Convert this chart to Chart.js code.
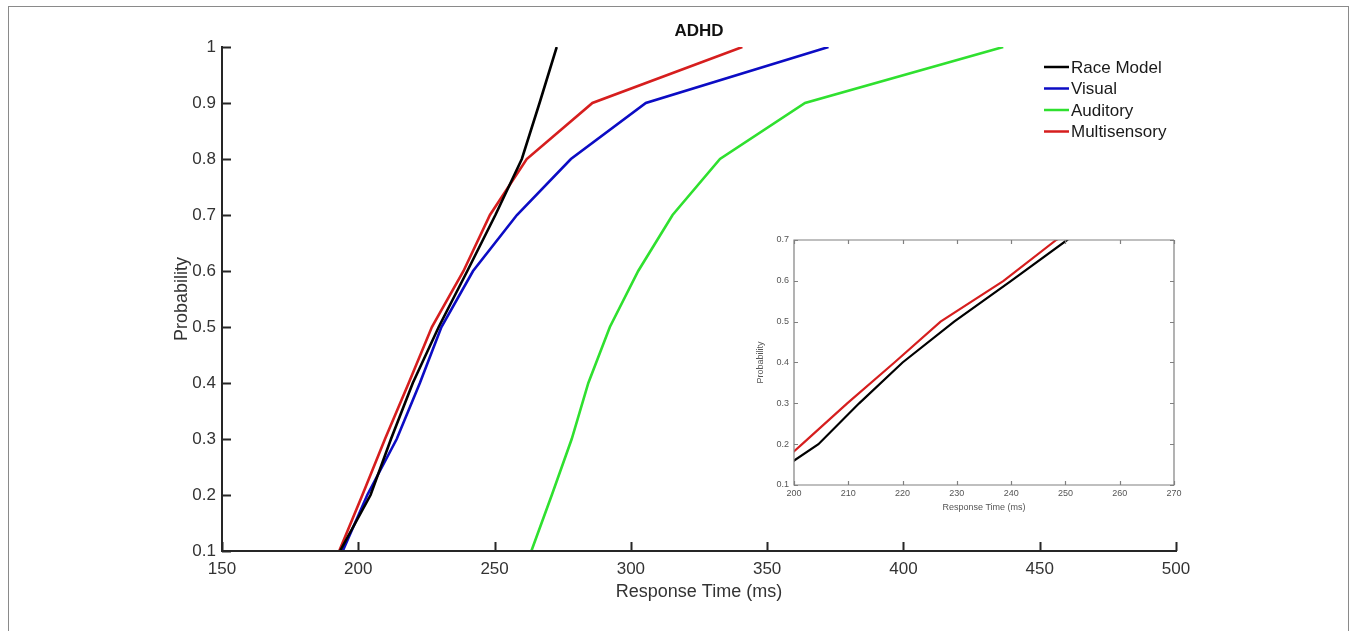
<!DOCTYPE html>
<html>
<head>
<meta charset="utf-8">
<script src="https://cdn.jsdelivr.net/npm/chart.js@4"></script>
<style>
  html, body { margin:0; padding:0; background:#fff; width:1356px; height:631px; overflow:hidden; }
  #frame { position:absolute; left:8px; top:6px; width:1341px; height:640px; border:1px solid #8a8a8a; box-sizing:border-box; }
  #main { position:absolute; left:0; top:0; }
  #inset { position:absolute; left:740px; top:225px; }
</style>
</head>
<body>
<div id="frame"></div>
<canvas id="main" width="1356" height="631"></canvas>
<canvas id="inset" width="445" height="300"></canvas>
<script>
// ---- data (response time in ms at each cumulative probability) ----
const probabilities = [0.1, 0.2, 0.3, 0.4, 0.5, 0.6, 0.7, 0.8, 0.9, 1.0];
const raceModel    = [193.3, 204.5, 212.0, 220.0, 229.5, 240.0, 250.3, 260.0, 266.5, 272.8];
const visual       = [194.3, 203.3, 214.1, 222.6, 230.5, 242.1, 258.2, 278.0, 305.5, 372.5];
const auditory     = [263.5, 271.0, 278.3, 284.4, 292.3, 302.7, 315.3, 332.7, 363.9, 436.6];
const multisensory = [193.0, 201.5, 209.8, 218.5, 227.0, 238.6, 248.3, 261.8, 285.9, 340.9];

const seriesNames  = ['Race Model', 'Visual', 'Auditory', 'Multisensory'];
const xTicksMain   = [150, 200, 250, 300, 350, 400, 450, 500];
const yTicksMain   = [0.1, 0.2, 0.3, 0.4, 0.5, 0.6, 0.7, 0.8, 0.9, 1];
const xTicksInset  = [200, 210, 220, 230, 240, 250, 260, 270];
const yTicksInset  = [0.1, 0.2, 0.3, 0.4, 0.5, 0.6, 0.7];
const chartTitle   = 'ADHD';

const colors = { race:'#000000', visual:'#0c0cc4', auditory:'#2fe02f', multi:'#d61e1e' };

const toPoints = (arr) => arr.map((v, i) => ({ x: v, y: probabilities[i] }));

const FONT = "'Liberation Sans', Arial, sans-serif";

// inward ticks + axis lines (MATLAB style)
const axesPlugin = {
  id: 'axesPlugin',
  afterDatasetsDraw(chart, args, o) {
    const { ctx, chartArea: a, scales: { x, y } } = chart;
    ctx.save();
    ctx.strokeStyle = o.color;
    ctx.lineWidth = o.width;
    ctx.lineCap = 'butt';
    ctx.beginPath();
    ctx.moveTo(a.left, a.top - o.width / 2); ctx.lineTo(a.left, a.bottom);
    ctx.moveTo(a.left - o.width / 2, a.bottom); ctx.lineTo(a.right + o.width / 2, a.bottom);
    if (o.box) {
      ctx.moveTo(a.left, a.top); ctx.lineTo(a.right, a.top);
      ctx.moveTo(a.right, a.top); ctx.lineTo(a.right, a.bottom);
    }
    x.ticks.forEach(t => {
      const px = Math.round(x.getPixelForValue(t.value)) + 0.5;
      ctx.moveTo(px, a.bottom); ctx.lineTo(px, a.bottom - o.len);
      if (o.box) { ctx.moveTo(px, a.top); ctx.lineTo(px, a.top + o.len); }
    });
    y.ticks.forEach(t => {
      const py = Math.round(y.getPixelForValue(t.value)) + 0.5;
      ctx.moveTo(a.left, py); ctx.lineTo(a.left + o.len, py);
      if (o.box) { ctx.moveTo(a.right, py); ctx.lineTo(a.right - o.len, py); }
    });
    ctx.stroke();
    ctx.restore();
  }
};

// title + legend drawn inside the main axes
const decorPlugin = {
  id: 'decorPlugin',
  afterDraw(chart, args, o) {
    const { ctx, chartArea: a } = chart;
    ctx.save();
    ctx.fillStyle = '#111';
    ctx.font = `bold 17px ${FONT}`;
    ctx.textAlign = 'center';
    ctx.textBaseline = 'middle';
    ctx.fillText(chartTitle, (a.left + a.right) / 2, 31);
    ctx.font = `17px ${FONT}`;
    ctx.textAlign = 'left';
    chart.data.datasets.forEach((ds, i) => {
      const yy = 67 + i * 21.5;
      ctx.strokeStyle = ds.borderColor;
      ctx.lineWidth = 2.5;
      ctx.beginPath(); ctx.moveTo(1044, yy); ctx.lineTo(1069, yy); ctx.stroke();
      ctx.fillStyle = '#1a1a1a';
      ctx.fillText(ds.label, 1071, yy + 1);
    });
    ctx.restore();
  }
};

const mainData = {
  datasets: [
    { label: seriesNames[0], data: toPoints(raceModel),    borderColor: colors.race },
    { label: seriesNames[1], data: toPoints(visual),       borderColor: colors.visual },
    { label: seriesNames[2], data: toPoints(auditory),     borderColor: colors.auditory },
    { label: seriesNames[3], data: toPoints(multisensory), borderColor: colors.multi }
  ].map(d => Object.assign(d, { borderWidth: 2.6, pointRadius: 0, tension: 0, fill: false }))
};

new Chart(document.getElementById('main'), {
  type: 'line',
  data: mainData,
  options: {
    responsive: false,
    animation: false,
    devicePixelRatio: 1,
    layout: { padding: { left: 167, top: 47, right: 180, bottom: 24 } },
    plugins: {
      legend: { display: false },
      title: { display: false },
      tooltip: { enabled: false },
      axesPlugin: { color: '#262626', width: 2, len: 9, box: false },
      decorPlugin: {}
    },
    scales: {
      x: {
        type: 'linear', min: 150, max: 500,
        afterBuildTicks: s => { s.ticks = xTicksMain.map(v => ({ value: v })); },
        afterFit: s => { s.height = 56; },
        grid: { display: false, drawTicks: false },
        border: { display: false },
        ticks: { padding: 8, color: '#333', font: { family: FONT, size: 17 }, maxRotation: 0 },
        title: { display: true, text: 'Response Time (ms)', color: '#333', font: { family: FONT, size: 18 } }
      },
      y: {
        type: 'linear', min: 0.1, max: 1,
        afterBuildTicks: s => { s.ticks = yTicksMain.map(v => ({ value: v })); },
        afterFit: s => { s.width = 55; },
        grid: { display: false, drawTicks: false },
        border: { display: false },
        ticks: { padding: 6, color: '#333', font: { family: FONT, size: 17 }, callback: v => String(v) },
        title: { display: true, text: 'Probability', color: '#333', font: { family: FONT, size: 18 } }
      }
    }
  },
  plugins: [axesPlugin, decorPlugin]
});

// inset: zoom of race model vs multisensory
new Chart(document.getElementById('inset'), {
  type: 'line',
  data: {
    datasets: [
      { label: seriesNames[0], data: toPoints(raceModel),    borderColor: colors.race },
      { label: seriesNames[3], data: toPoints(multisensory), borderColor: colors.multi }
    ].map(d => Object.assign(d, { borderWidth: 2.2, pointRadius: 0, tension: 0, fill: false }))
  },
  options: {
    responsive: false,
    animation: false,
    devicePixelRatio: 1,
    layout: { padding: { left: 11, top: 15, right: 11, bottom: 8 } },
    plugins: {
      legend: { display: false },
      tooltip: { enabled: false },
      axesPlugin: { color: '#808080', width: 1.2, len: 4, box: true }
    },
    scales: {
      x: {
        type: 'linear', min: 200, max: 270,
        afterBuildTicks: s => { s.ticks = xTicksInset.map(v => ({ value: v })); },
        afterFit: s => { s.height = 32; },
        grid: { display: false, drawTicks: false },
        border: { display: false },
        ticks: { padding: 3, color: '#555', font: { family: FONT, size: 9 }, maxRotation: 0 },
        title: { display: true, text: 'Response Time (ms)', color: '#555', font: { family: FONT, size: 9 } }
      },
      y: {
        type: 'linear', min: 0.1, max: 0.7,
        afterBuildTicks: s => { s.ticks = yTicksInset.map(v => ({ value: v })); },
        afterFit: s => { s.width = 43; },
        grid: { display: false, drawTicks: false },
        border: { display: false },
        ticks: { padding: 5, color: '#555', font: { family: FONT, size: 9 }, callback: v => String(v) },
        title: { display: true, text: 'Probability', color: '#555', font: { family: FONT, size: 9 } }
      }
    }
  },
  plugins: [axesPlugin]
});
</script>
</body>
</html>
